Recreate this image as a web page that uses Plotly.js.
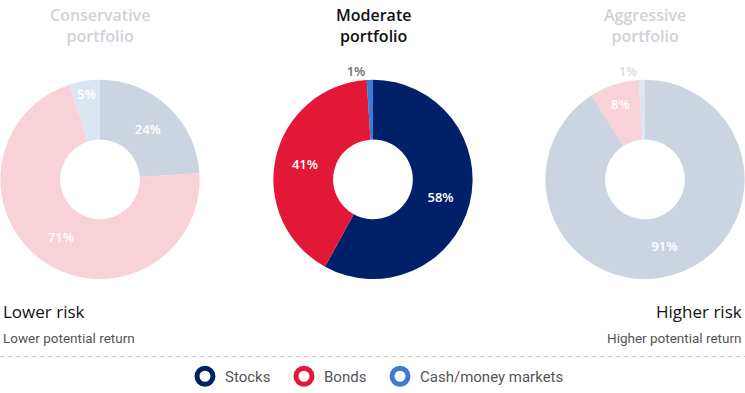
<!DOCTYPE html>
<html>
<head>
<meta charset="utf-8">
<script src="https://cdn.plot.ly/plotly-3.0.1.min.js"></script>
<style>html,body{margin:0;padding:0;background:#fff;}#chart{width:745px;height:393px;}</style>
</head>
<body>
<div id="chart"></div>
<script>
const categories = ['Stocks', 'Bonds', 'Cash/money markets'];
const conservative = [24, 71, 5];
const moderate = [58, 41, 1];
const aggressive = [91, 8, 1];
const portfolioTitles = ['Conservative<br>portfolio', 'Moderate<br>portfolio', 'Aggressive<br>portfolio'];
const riskLabels = ['Lower risk', 'Higher risk'];
const returnLabels = ['Lower potential return', 'Higher potential return'];

const strongColors = ['#002169', '#e31837', '#3a7bd5'];
const fadedColors = ['#cdd4e1', '#f9d1d8', '#dbe6f5'];

const yDom = [0.29, 0.797];
function pieTrace(values, colors, xDom, outColor) {
  return {
    type: 'pie', labels: categories, values: values, sort: false,
    direction: 'clockwise', rotation: 0, hole: 0.4,
    domain: {x: xDom, y: yDom},
    marker: {colors: colors, line: {width: 0}},
    texttemplate: '%{value}%', textposition: 'auto',
    insidetextorientation: 'horizontal',
    textfont: {family: 'Open Sans', size: 13, weight: 600, color: '#ffffff'},
    insidetextfont: {family: 'Open Sans', size: 13, weight: 600, color: '#ffffff'},
    outsidetextfont: {family: 'Open Sans', size: 13, weight: 600, color: outColor},
    showlegend: false, hoverinfo: 'skip', automargin: false
  };
}

const traces = [
  pieTrace(conservative, fadedColors, [0, 0.2685], '#d6d8dd'),
  pieTrace(moderate, strongColors, [0.3664, 0.6349], '#707070'),
  pieTrace(aggressive, fadedColors, [0.7315, 1], '#dcdde1')
];
const legendIds = ['legend', 'legend2', 'legend3'];
categories.forEach((c, i) => {
  traces.push({
    type: 'scatter', mode: 'markers', x: [null], y: [null], name: c, legend: legendIds[i],
    marker: {symbol: 'circle-open', size: 16, color: strongColors[i], line: {width: 5, color: strongColors[i]}},
    showlegend: true, hoverinfo: 'skip'
  });
});

const titleColors = ['#cfd2d8', '#111111', '#cfd2d8'];
const titleX = [0.1343, 0.5007, 0.8658];
const annotations = portfolioTitles.map((t, i) => ({
  text: t, x: titleX[i], y: 0.936, xref: 'paper', yref: 'paper',
  xanchor: 'center', yanchor: 'middle', showarrow: false, align: 'center',
  font: {family: 'Open Sans', size: 16, weight: 600, color: titleColors[i]}
}));
annotations.push(
  {text: riskLabels[0], x: 0.002, y: 1 - 311/393, xref: 'paper', yref: 'paper', xanchor: 'left', yanchor: 'middle', showarrow: false,
   font: {family: 'Open Sans', size: 17, color: '#111111'}},
  {text: riskLabels[1], x: 0.998, y: 1 - 311/393, xref: 'paper', yref: 'paper', xanchor: 'right', yanchor: 'middle', showarrow: false,
   font: {family: 'Open Sans', size: 17, color: '#111111'}},
  {text: returnLabels[0], x: 0.002, y: 1 - 337.5/393, xref: 'paper', yref: 'paper', xanchor: 'left', yanchor: 'middle', showarrow: false,
   font: {family: 'Roboto', size: 13.5, color: '#555555'}},
  {text: returnLabels[1], x: 0.998, y: 1 - 337.5/393, xref: 'paper', yref: 'paper', xanchor: 'right', yanchor: 'middle', showarrow: false,
   font: {family: 'Roboto', size: 13.5, color: '#555555'}}
);

const legendX = [0.2483, 0.3812, 0.5101];
const layout = {
  width: 745, height: 393,
  margin: {l: 0, r: 0, t: 0, b: 0},
  paper_bgcolor: '#ffffff', plot_bgcolor: 'rgba(0,0,0,0)',
  xaxis: {visible: false}, yaxis: {visible: false},
  showlegend: true,
  shapes: [{type: 'line', xref: 'paper', yref: 'paper', x0: 0, x1: 1, y0: 1 - 356.5/393, y1: 1 - 356.5/393, layer: 'above',
    line: {color: '#c8c8c8', width: 1, dash: '4px,4px'}}],
  annotations: annotations,
  hovermode: false
};
legendIds.forEach((id, i) => {
  layout[id] = {orientation: 'h', x: legendX[i], xanchor: 'left', y: 0, yanchor: 'bottom',
    font: {family: 'Roboto', size: 15, color: '#555555'}, bgcolor: 'rgba(0,0,0,0)', borderwidth: 0,
    itemclick: false, itemdoubleclick: false};
});

Plotly.newPlot('chart', traces, layout, {displayModeBar: false, staticPlot: true});
</script>
</body>
</html>
